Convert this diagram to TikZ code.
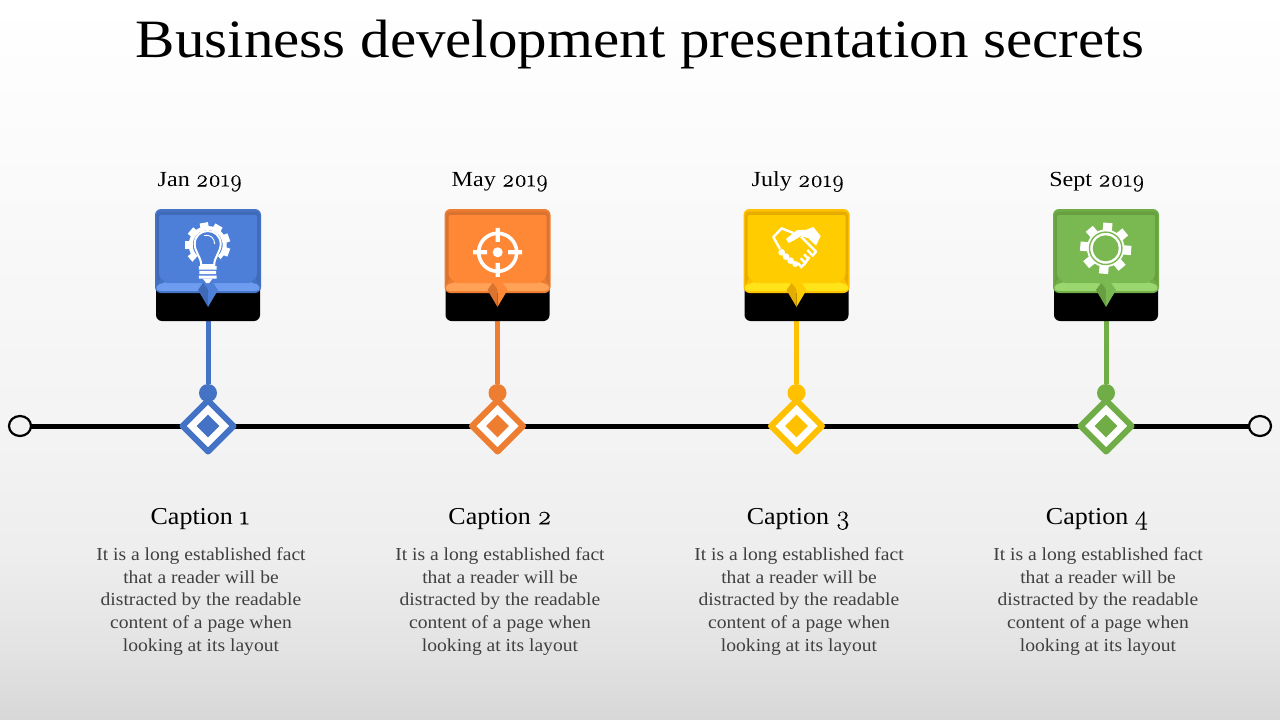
\documentclass[tikz,border=0pt]{standalone}
\usepackage{fontspec}
\usetikzlibrary{shapes.geometric}
\setmainfont{Liberation Serif}[FakeStretch=1.07]
\newfontfamily\titlefont{Liberation Serif}[FakeStretch=1.093]
\newfontfamily\datefont{Liberation Serif}[FakeStretch=1.12]
\newfontfamily\osf{Latin Modern Roman}[Numbers=OldStyle,FakeBold=0.25,Scale=1.12]
\pgfdeclareverticalshading{bgsh}{100bp}{rgb(0bp)=(0.845,0.845,0.845); rgb(25bp)=(0.845,0.845,0.845); rgb(29.9bp)=(0.89,0.89,0.89); rgb(36.1bp)=(0.93,0.93,0.93); rgb(44.4bp)=(0.953,0.953,0.953); rgb(75bp)=(1,1,1); rgb(100bp)=(1,1,1)}
\definecolor{bluel}{HTML}{4472C4}\definecolor{blueface}{HTML}{4D7FD8}\definecolor{bluedark}{HTML}{3F6AB8}\definecolor{bluelight}{HTML}{6E9CF0}
\definecolor{orl}{HTML}{ED7D31}\definecolor{orface}{HTML}{FF8837}\definecolor{ordark}{HTML}{DA7230}\definecolor{orlight}{HTML}{FFA257}
\definecolor{yel}{HTML}{FFC000}\definecolor{yeface}{HTML}{FFCC00}\definecolor{yedark}{HTML}{E6AC00}\definecolor{yelight}{HTML}{FFE419}
\definecolor{grl}{HTML}{70AD47}\definecolor{grface}{HTML}{7AB951}\definecolor{grdark}{HTML}{679F41}\definecolor{grlight}{HTML}{9AD86F}
\definecolor{bodygray}{HTML}{404040}
\tikzset{
 x=1pt,y=-1pt,
 axisline/.style={line width=5pt,black},
 endring/.style={draw=black,line width=2.2pt,fill=black!5,ellipse,minimum width=22pt,minimum height=20pt,inner sep=0pt,outer sep=0pt},
 ctext/.style={font=\datefont\fontsize{21.5}{24}\selectfont,black,inner sep=0pt},
 titletext/.style={font=\titlefont\fontsize{54}{60}\selectfont,black,inner sep=0pt},
 captext/.style={font=\fontsize{24.3}{28}\selectfont,black,inner sep=0pt},
 bodytext/.style={font=\fontsize{18.3}{22.6}\selectfont,text=bodygray,align=center,inner sep=0pt},
 stemline/.style={line width=5pt},
}
% #1 id, #2 centre x, #3 line colour, #4 face, #5 dark, #6 light
\newcommand{\milestone}[6]{%
 \coordinate (#1-tip) at (#2,306);
 \node[circle,fill=#3,minimum size=18pt,inner sep=0pt] (#1-dot) at (#2,393) {};
 \draw[stemline,#3] (#1-tip) -- (#1-dot);
 \node[diamond,draw=#3,line width=6pt,line join=round,fill=white,minimum width=51pt,minimum height=51pt,inner sep=0pt,outer sep=0pt] (#1-dia) at (#2,426) {};
 \node[diamond,fill=#3,minimum width=23pt,minimum height=23pt,inner sep=0pt] (#1-core) at (#2,426) {};
 \begin{scope}[shift={(#2,0)}]
  \fill[black,rounded corners=6pt] (-52,270) rectangle (52,321);
  \fill[#3,rounded corners=6pt] (-53,209) rectangle (53,293);
  \fill[#5] (-51,213) -- (-47,211.5) -- (47,211.5) -- (51,213) -- (48,216) -- (-48,216) -- cycle;
  \fill[#5] (-51.5,214) -- (-48,216) -- (-48,279) -- (-51.5,285) -- cycle;
  \fill[#5] (51.5,214) -- (48,216) -- (48,279) -- (51.5,285) -- cycle;
  \fill[#6,rounded corners=2pt] (-52,289) -- (-51,285) -- (-42,282) -- (42,282) -- (51,285) -- (52,289) -- (50,291) -- (-50,291) -- cycle;
  \fill[#4,rounded corners=1.5pt] (-49,215) -- (49,215) -- (49,276) -- (42,283) -- (5,283) -- (0,289) -- (-5,283) -- (-42,283) -- (-49,276) -- cycle;
  \fill[#5] (-10,290) -- (-5,283) -- (0,289) -- (0,307) -- cycle;
  \fill[#4] (10,290) -- (5,283) -- (0,289) -- (0,307) -- cycle;
  \node[minimum width=106pt,minimum height=84pt,inner sep=0pt] (#1-box) at (0,251) {};
 \end{scope}
}
\begin{document}
\begin{tikzpicture}
\useasboundingbox (0,0) rectangle (1280,720);
\shade[shading=bgsh] (0,0) rectangle (1280,720);
\node[titletext] (title) at (640,45) {Business development presentation secrets};

\node[endring] (leftend) at (20,426) {};
\node[endring] (rightend) at (1260,426) {};
\draw[axisline] (leftend) -- (rightend);

\milestone{a}{208}{bluel}{blueface}{bluedark}{bluelight}
\milestone{b}{497.5}{orl}{orface}{ordark}{orlight}
\milestone{c}{796.5}{yel}{yeface}{yedark}{yelight}
\milestone{d}{1106}{grl}{grface}{grdark}{grlight}

% bulb + gear icon
\begin{scope}[shift={(207.7,245)}]
 \foreach \t in {0,40,...,320}{\fill[white,rotate=\t+10] (-4.2,-22.5) rectangle (4.2,-15);}
 \fill[white,even odd rule] (0,0) circle[radius=19pt] (0,0) circle[radius=15pt];
 \fill[blueface] (0,0) -- (48:31) -- (132:31) -- cycle;
 \draw[white,line width=2pt,fill=blueface] (-6.5,20) .. controls (-6.5,12) and (-13,7) .. (-13,-1) .. controls (-13,-9) and (-7,-14) .. (0,-14) .. controls (7,-14) and (13,-9) .. (13,-1) .. controls (13,7) and (6.5,12) .. (6.5,20) -- cycle;
 \draw[white,line width=.9pt] (-3.5,-9.5) .. controls (2,-11) and (7,-7) .. (7,-1);
 \fill[white] (-8.8,21) rectangle (8.8,24.5) (-8.3,25.8) rectangle (8.3,29.2) (-8.8,30.5) rectangle (8.8,33.5);
 \fill[white] (-5,33.5) -- (5,33.5) -- (1.5,38) -- (-1.5,38) -- cycle;
\end{scope}

% target icon
\begin{scope}[shift={(497.7,252.3)}]
 \draw[white,line width=3.6pt] (0,0) circle[radius=19pt];
 \fill[white] (0,0) circle[radius=5pt];
 \fill[white] (-2.1,-24.5) rectangle (2.1,-10.5) (-2.1,24.5) rectangle (2.1,10.5);
 \fill[white] (-24.5,-2.1) rectangle (-10.5,2.1) (24.5,-2.1) rectangle (10.5,2.1);
\end{scope}

% handshake icon
\begin{scope}[shift={(730,195)},scale=0.3333]
 \fill[white] (168,132) -- (200,106) -- (230,104) -- (250,96) -- (272,123) -- (258,152) -- (235,130) -- (213,123) -- (192,136) -- (176,144) -- cycle;
 \draw[white,line width=2.4pt,line join=round] (190,114) -- (155,100) -- (130,126) -- (150,162);
 \draw[white,line width=2.4pt,line join=round] (213,125) -- (258,170) -- (246,184);
 \draw[white,line width=2.4pt] (232,165) -- (248,182) (222,178) -- (238,194) (238,186) -- (226,204) -- (212,190) (226,204) -- (214,216) -- (204,204);
 \fill[white] (155,172) circle[radius=10pt] (168,185) circle[radius=10pt] (182,197) circle[radius=10pt] (196,207) circle[radius=9pt];
\end{scope}

% gear icon
\begin{scope}[shift={(1105.7,248.3)}]
 \foreach \t in {0,45,...,315}{\fill[white,rotate=\t-5] (-4.6,-25.5) rectangle (4.6,-15);}
 \fill[white] (0,0) circle[radius=18.8pt];
 \draw[grface,line width=1.4pt] (0,0) circle[radius=16.2pt];
 \fill[grface] (0,0) circle[radius=13pt];
\end{scope}

\node[ctext] (d1) at (200,182) {Jan {\osf 2019}};
\node[ctext] (d2) at (500,182) {May {\osf 2019}};
\node[ctext] (d3) at (798,182) {July {\osf 2019}};
\node[ctext] (d4) at (1097,182) {Sept {\osf 2019}};

\node[captext] (c1) at (200,519) {Caption {\osf 1}};
\node[captext] (c2) at (500,519) {Caption {\osf 2}};
\node[captext] (c3) at (798.5,519) {Caption {\osf 3}};
\node[captext] (c4) at (1097,519) {Caption {\osf 4}};

\node[bodytext] (t1) at (201,601.5) {It is a long established fact\\that a reader will be\\distracted by the readable\\content of a page when\\looking at its layout};
\node[bodytext] (t2) at (500,601.5) {It is a long established fact\\that a reader will be\\distracted by the readable\\content of a page when\\looking at its layout};
\node[bodytext] (t3) at (799,601.5) {It is a long established fact\\that a reader will be\\distracted by the readable\\content of a page when\\looking at its layout};
\node[bodytext] (t4) at (1098,601.5) {It is a long established fact\\that a reader will be\\distracted by the readable\\content of a page when\\looking at its layout};
\end{tikzpicture}
\end{document}
